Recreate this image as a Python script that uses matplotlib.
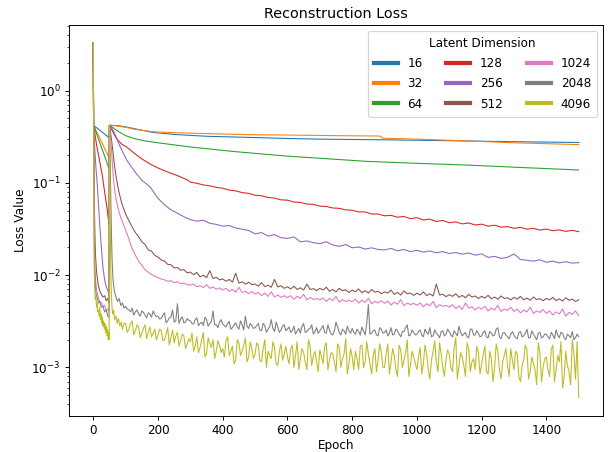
import numpy as np
import matplotlib
matplotlib.use("Agg")
import matplotlib.pyplot as plt

# ---------------- data ----------------
dims = ["16", "32", "64", "128", "256", "512", "1024", "2048", "4096"]

ep_16 = [0, 1, 49, 50, 60, 80, 100, 130, 185, 250, 350, 485, 600, 700, 897, 1000, 1200, 1350, 1500]
val_16 = [3.3, .42, .31, .42, .42, .415, .405, .385, .352, .335, .32, .311, .303, .298, .293, .29, .283, .278, .274]

ep_32 = [0, 1, 49, 50, 60, 80, 100, 130, 185, 250, 350, 485, 600, 750, 885, 895, 1000, 1156, 1300, 1500]
val_32 = [3.3, .42, .187, .42, .42, .41, .40, .38, .358, .35, .342, .333, .33, .325, .322, .305, .298, .285, .272, .26]

ep_64 = [0, 1, 49, 50, 60, 70, 83, 100, 130, 160, 207, 300, 433, 600, 847, 1000, 1156, 1300, 1500]
val_64 = [3.3, .42, .142, .42, .40, .375, .352, .325, .30, .285, .27, .245, .219, .195, .171, .163, .156, .148, .138]

ep_128_early = [0, 1, 10, 20, 28, 35, 42, 49, 50, 55, 60, 70, 80, 90, 104, 130, 150, 176, 200, 228, 260, 290]
val_128_early = [3.3, .42, .26, .17, .12, .08, .055, .035, .42, .39, .36, .31, .28, .26, .244, .205, .182, .16, .145, .132, .12, .108]
val_128_late = [  # epochs 300..1500 step 20, units 1e-4
    1020, 990, 950, 930, 895, 875, 835, 820, 785, 770,
    735, 725, 695, 685, 655, 650, 620, 615, 590, 585,
    560, 555, 535, 530, 510, 505, 485, 485, 460, 460,
    440, 445, 425, 432, 410, 420, 396, 405, 382, 392,
    370, 378, 360, 368, 350, 357, 340, 348, 332, 336,
    322, 330, 315, 322, 308, 316, 303, 310, 298, 306,
    296]

ep_256_early = [0, 1, 4, 8, 12, 16, 20, 25, 30, 35, 40, 45, 49, 50, 55, 60, 70, 80, 90, 104, 130, 150,
                176, 200, 220, 240, 260, 280]
val_256_early = [3.3, .42, .25, .15, .1, .06, .035, .02, .012, .009, .0075, .0068, .0063, .42, .40, .38, .32,
                 .26, .22, .175, .13, .107, .09, .068, .058, .051, .047, .043]
val_256_late = [  # epochs 300..1500 step 20, units 1e-5
    4000, 3850, 3950, 3650, 3550, 3400, 3450, 3250, 3150, 3050,
    2800, 2900, 2650, 2750, 2550, 2500, 2600, 2300, 2350, 2250,
    2200, 2300, 2130, 2050, 2150, 1980, 2020, 1920, 1980, 1900,
    1880, 1950, 1840, 1900, 1800, 1860, 1780, 1830, 1750, 1800,
    1720, 1760, 1690, 1740, 1650, 1700, 1560, 1600, 1520, 1560,
    1700, 1480, 1450, 1420, 1470, 1380, 1420, 1360, 1400, 1350,
    1370]

ep_512_early = [0, 1, 2, 3, 4, 5, 7, 10, 15, 20, 25, 30, 35, 40, 45, 49, 50, 53, 56, 60, 65, 70, 75, 80, 85, 90, 95]
val_512_early = [3.3, .42, .2, .09, .045, .028, .016, .011, .008, .0068, .0062, .0058, .006, .0053, .0056, .005,
                 .42, .36, .3, .23, .16, .12, .095, .078, .066, .057, .051]
val_512_late = [  # epochs 100..1500 step 10, units 1e-5
    4600, 3900, 3350, 2900, 2620, 2300, 2150, 1880, 1820, 1640,
    1570, 1460, 1420, 1310, 1300, 1200, 1210, 1130, 1150, 1060,
    1080, 1010, 1070, 960, 1000, 940, 1120, 920, 950, 890,
    910, 860, 900, 840, 1050, 820, 850, 800, 840, 790,
    800, 760, 830, 750, 780, 740, 900, 745, 770, 720,
    750, 710, 760, 700, 730, 690, 800, 700, 715, 680,
    720, 690, 740, 670, 700, 660, 720, 680, 695, 650,
    690, 660, 710, 645, 680, 640, 700, 655, 670, 630,
    660, 640, 690, 620, 650, 610, 675, 630, 640, 605,
    640, 610, 660, 600, 630, 595, 800, 610, 620, 585,
    615, 590, 630, 575, 605, 570, 620, 580, 595, 560,
    590, 565, 605, 555, 580, 550, 595, 560, 570, 540,
    575, 550, 590, 540, 565, 535, 580, 545, 555, 530,
    560, 540, 575, 530, 555, 525, 570, 535, 550, 520,
    540]

ep_1024_early = [0, 1, 2, 3, 4, 5, 7, 10, 15, 20, 25, 30, 35, 40, 45, 49, 50, 53, 56, 59, 62, 66, 70, 75, 80,
                 85, 90, 95]
val_1024_early = [3.3, .42, .12, .04, .02, .013, .009, .007, .0058, .0052, .005, .0046, .0047, .0042, .0043,
                  .004, .42, .33, .24, .16, .115, .085, .068, .056, .048, .042, .038, .034]
val_1024_late = [  # epochs 100..1500 step 10, units 1e-5
    3100, 2450, 1950, 1650, 1420, 1280, 1150, 1080, 1020, 970,
    940, 910, 890, 860, 870, 830, 850, 810, 820, 790,
    780, 800, 750, 770, 735, 790, 720, 745, 705, 730,
    690, 720, 670, 700, 655, 740, 650, 670, 630, 665,
    625, 650, 600, 640, 590, 660, 580, 610, 575, 600,
    570, 600, 550, 590, 560, 620, 540, 575, 545, 560,
    540, 565, 520, 560, 530, 590, 510, 545, 520, 535,
    515, 550, 500, 535, 505, 565, 490, 520, 500, 530,
    495, 525, 475, 510, 485, 545, 465, 500, 480, 495,
    475, 500, 455, 490, 465, 520, 445, 480, 460, 470,
    450, 480, 435, 465, 425, 500, 440, 455, 420, 450,
    430, 460, 410, 440, 420, 470, 405, 430, 415, 450,
    405, 430, 390, 420, 400, 450, 385, 410, 395, 425,
    385, 410, 370, 400, 380, 430, 360, 395, 375, 410,
    365]

ep_2048_early = [0, 1, 2, 3, 4, 6, 8, 10, 13, 16, 20, 25, 30, 35, 40, 45, 49, 50, 52, 54, 56, 58, 61, 65, 70,
                 75, 80, 85, 90, 95]
val_2048_early = [3.3, .42, .06, .02, .011, .008, .0065, .006, .0055, .005, .0052, .0045, .0046, .004, .0042,
                  .0036, .0035, .42, .2, .07, .03, .015, .009, .0068, .0058, .0052, .0056, .0047, .005, .0044]
val_2048_late = [  # epochs 100..1500 step 10, units 1e-5
    460, 420, 440, 400, 380, 410, 370, 390, 350, 375,
    360, 340, 390, 320, 350, 310, 490, 335, 305, 340,
    320, 295, 345, 300, 285, 330, 300, 410, 290, 310,
    295, 275, 315, 270, 305, 260, 290, 360, 265, 285,
    270, 300, 250, 285, 260, 330, 245, 275, 255, 290,
    260, 240, 280, 250, 235, 300, 245, 265, 230, 270,
    250, 285, 235, 255, 225, 310, 240, 260, 230, 250,
    265, 230, 245, 275, 225, 480, 235, 255, 220, 260,
    240, 220, 270, 230, 250, 215, 245, 290, 225, 240,
    230, 255, 215, 240, 270, 220, 235, 210, 250, 230,
    245, 215, 235, 280, 220, 240, 210, 260, 225, 235,
    220, 250, 210, 235, 225, 270, 205, 240, 215, 230,
    225, 205, 245, 220, 260, 210, 230, 200, 240, 215,
    230, 205, 225, 255, 210, 235, 200, 220, 245, 210,
    215]
val_2048_mid = [  # epochs 105..1495 step 10, units 1e-5
    430, 400, 370, 420, 360, 395, 345, 380, 410, 355,
    335, 370, 305, 345, 420, 320, 300, 355, 310, 325,
    300, 330, 285, 310, 350, 280, 315, 290, 270, 330,
    285, 300, 260, 290, 275, 320, 255, 280, 300, 265,
    285, 255, 300, 240, 275, 265, 310, 240, 280, 250,
    275, 250, 230, 265, 280, 240, 260, 290, 245, 235,
    265, 240, 290, 230, 250, 275, 225, 250, 280, 235,
    240, 260, 225, 250, 300, 230, 250, 225, 270, 235,
    255, 235, 225, 260, 230, 245, 270, 220, 255, 225,
    245, 225, 260, 230, 215, 255, 225, 245, 220, 260,
    225, 250, 220, 240, 230, 215, 260, 225, 250, 215,
    240, 215, 245, 220, 260, 215, 235, 225, 205, 245,
    210, 240, 215, 235, 210, 250, 215, 235, 210, 230,
    215, 240, 205, 225, 240, 210, 230, 210, 200, 230]

ep_4096_early = [0, 1, 2, 3, 4, 5, 6, 8, 10, 12, 14, 16, 18, 20, 22, 24, 26, 28, 30, 32, 34, 36, 38, 40, 42,
                 44, 46, 48, 49, 50, 52, 54, 56, 58, 60, 63, 66, 70, 74, 78, 82, 86, 90, 95]
val_4096_early = [3.3, .42, .03, .012, .008, .0065, .0055, .006, .0045, .005, .004, .0042, .0036, .0045, .0033,
                  .0038, .003, .0035, .0028, .0032, .0026, .003, .0024, .0028, .0022, .0026, .002, .0024, .002,
                  .42, .05, .012, .006, .0045, .0038, .0042, .0033, .0036, .003, .0034, .0028, .0031, .0026, .003]
val_4096_late = [  # epochs 100..1500 step 10, units 1e-5
    300, 260, 320, 250, 275, 235, 290, 240, 215, 260,
    225, 250, 200, 270, 210, 185, 240, 195, 220, 180,
    190, 150, 215, 165, 240, 140, 180, 200, 150, 175,
    160, 195, 135, 170, 120, 185, 150, 210, 130, 160,
    140, 175, 115, 200, 150, 125, 165, 105, 180, 140,
    130, 160, 100, 190, 125, 145, 95, 170, 135, 115,
    155, 110, 185, 120, 140, 90, 165, 125, 205, 110,
    130, 150, 95, 175, 115, 140, 85, 160, 120, 145,
    100, 180, 115, 135, 80, 155, 120, 200, 105, 130,
    95, 165, 110, 140, 75, 150, 115, 185, 100, 125,
    140, 90, 210, 105, 130, 80, 160, 115, 95, 145,
    110, 170, 85, 125, 100, 150, 75, 135, 105, 160,
    95, 140, 70, 120, 155, 90, 110, 65, 145, 100,
    130, 80, 175, 95, 115, 60, 150, 90, 200, 75,
    47]
val_4096_mid = [  # epochs 105..1495 step 10, units 1e-5
    240, 300, 225, 290, 210, 265, 205, 275, 235, 200,
    260, 195, 230, 175, 255, 220, 170, 230, 160, 205,
    235, 170, 145, 200, 130, 210, 165, 125, 195, 145,
    130, 215, 150, 110, 200, 135, 175, 115, 190, 125,
    185, 120, 160, 100, 135, 190, 110, 150, 120, 170,
    110, 175, 135, 95, 160, 115, 200, 105, 150, 90,
    130, 170, 95, 145, 115, 180, 100, 140, 85, 160,
    95, 125, 170, 100, 190, 110, 135, 90, 180, 100,
    140, 85, 160, 95, 175, 100, 145, 80, 150, 110,
    130, 85, 175, 95, 120, 195, 90, 140, 80, 155,
    100, 165, 75, 145, 105, 185, 90, 125, 170, 85,
    140, 90, 150, 70, 180, 95, 115, 160, 80, 120,
    150, 80, 105, 175, 75, 130, 95, 185, 70, 125,
    95, 155, 70, 135, 190, 80, 105, 65, 140, 190]

# ---------------- assemble series ----------------
grid20 = np.arange(300, 1501, 20)
grid10 = np.arange(100, 1501, 10)
grid10_mid = np.arange(105, 1500, 10)


def merge(ep_a, val_a, ep_b, val_b):
    x = np.concatenate([ep_a, ep_b])
    y = np.concatenate([val_a, val_b])
    order = np.argsort(x, kind="stable")
    return x[order], y[order]


x2048, y2048 = merge(grid10, np.array(val_2048_late) * 1e-5, grid10_mid, np.array(val_2048_mid) * 1e-5)
x4096, y4096 = merge(grid10, np.array(val_4096_late) * 1e-5, grid10_mid, np.array(val_4096_mid) * 1e-5)

series = [
    (np.array(ep_16), np.array(val_16)),
    (np.array(ep_32), np.array(val_32)),
    (np.array(ep_64), np.array(val_64)),
    (np.concatenate([ep_128_early, grid20]), np.concatenate([val_128_early, np.array(val_128_late) * 1e-4])),
    (np.concatenate([ep_256_early, grid20]), np.concatenate([val_256_early, np.array(val_256_late) * 1e-5])),
    (np.concatenate([ep_512_early, grid10]), np.concatenate([val_512_early, np.array(val_512_late) * 1e-5])),
    (np.concatenate([ep_1024_early, grid10]), np.concatenate([val_1024_early, np.array(val_1024_late) * 1e-5])),
    (np.concatenate([ep_2048_early, x2048]), np.concatenate([val_2048_early, y2048])),
    (np.concatenate([ep_4096_early, x4096]), np.concatenate([val_4096_early, y4096])),
]

# ---------------- plot ----------------
plt.rcParams['font.family'] = ['DejaVu Sans']
DPI = 86.4
fig = plt.figure(figsize=(610 / DPI, 452 / DPI), dpi=DPI)
ax = fig.add_axes([69 / 610, 1 - 415.5 / 452, (603 - 69) / 610, (415.5 - 25) / 452])

for (x, y), lab in zip(series, dims):
    ax.plot(x, y, lw=0.9, label=lab)

ax.set_yscale('log')
ax.set_title("Reconstruction Loss", fontsize=12)
ax.set_xlabel("Epoch", fontsize=10, labelpad=1.5)
ax.set_ylabel("Loss Value", fontsize=10)
ax.tick_params(labelsize=10)

leg = ax.legend(title="Latent Dimension", ncol=3, loc="upper right", fontsize=10, title_fontsize=10,
                labelspacing=0.6, borderpad=0.5)
for ln in leg.get_lines():
    ln.set_linewidth(3.5)

fig.savefig("out.png", dpi=DPI)
